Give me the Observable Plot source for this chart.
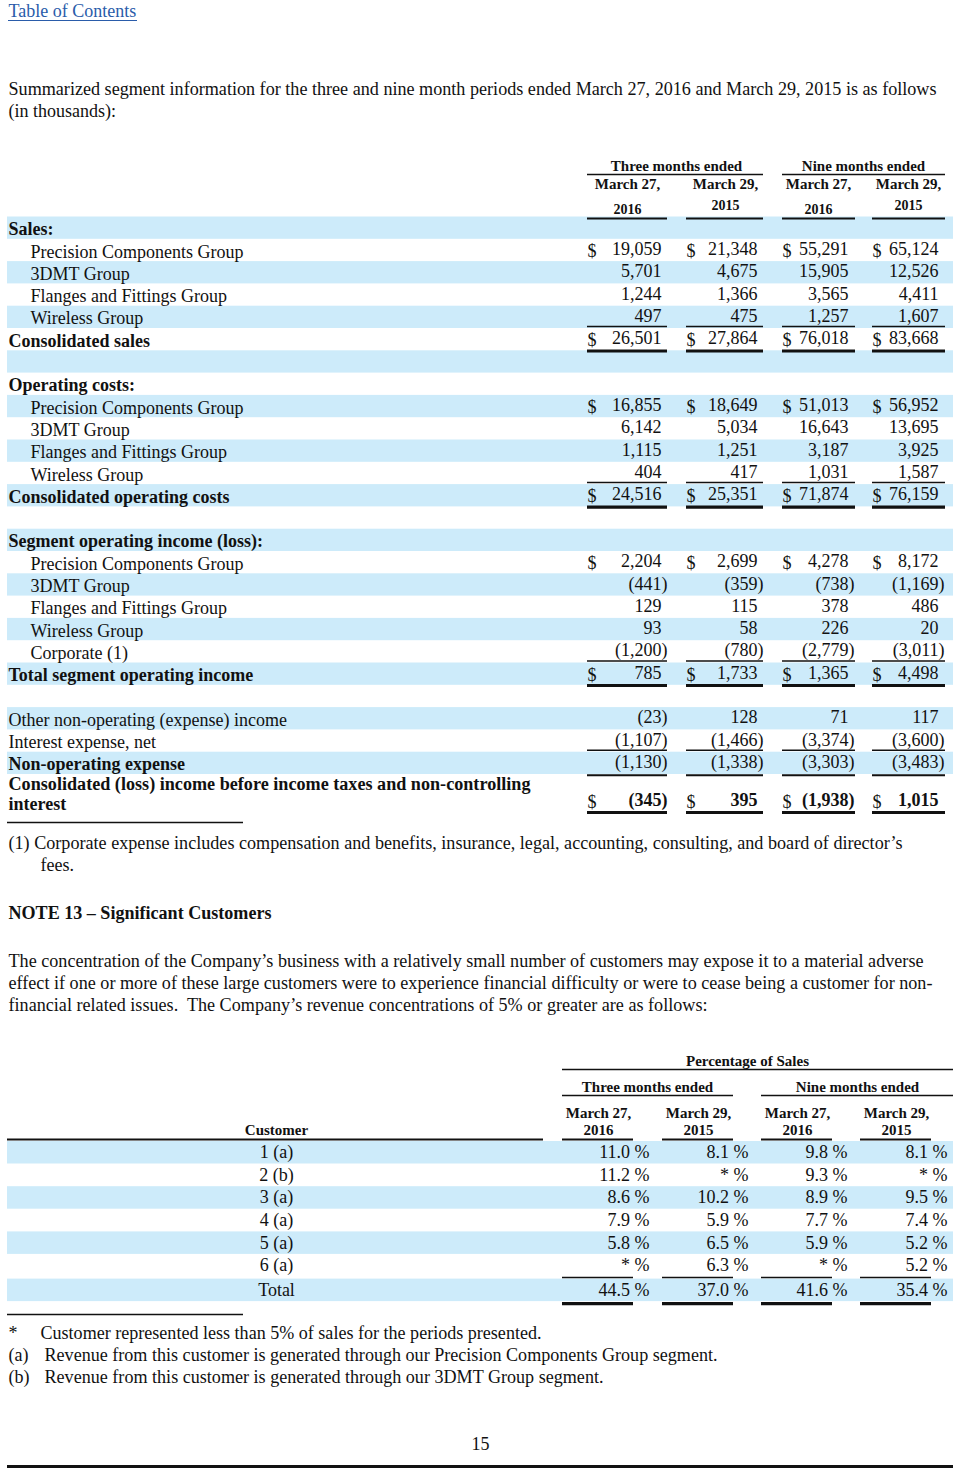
<!DOCTYPE html>
<html><head><meta charset="utf-8">
<script src="https://cdn.jsdelivr.net/npm/d3@7"></script>
<script src="https://cdn.jsdelivr.net/npm/@observablehq/plot@0.6"></script>
<style>html,body{margin:0;padding:0;background:#fff;} svg{display:block;}</style>
</head><body><div id="chart"></div>
<script>
// ---------------- DATA ----------------
const linkText = "Table of Contents";
const introLines = [
  "Summarized segment information for the three and nine month periods ended March 27, 2016 and March 29, 2015 is as follows",
  "(in thousands):"
];
const periodGroups = ["Three months ended", "Nine months ended"];
const periodDates = ["March 27,", "March 29,", "March 27,", "March 29,"];
const periodYears = ["2016", "2015", "2016", "2015"];

const segments = ["Precision Components Group", "3DMT Group", "Flanges and Fittings Group", "Wireless Group"];
const salesValues = [[19059, 21348, 55291, 65124], [5701, 4675, 15905, 12526], [1244, 1366, 3565, 4411], [497, 475, 1257, 1607]];
const salesTotal = [26501, 27864, 76018, 83668];
const opCostValues = [[16855, 18649, 51013, 56952], [6142, 5034, 16643, 13695], [1115, 1251, 3187, 3925], [404, 417, 1031, 1587]];
const opCostTotal = [24516, 25351, 71874, 76159];
const incomeNames = ["Precision Components Group", "3DMT Group", "Flanges and Fittings Group", "Wireless Group", "Corporate (1)"];
const incomeValues = [[2204, 2699, 4278, 8172], [-441, -359, -738, -1169], [129, 115, 378, 486], [93, 58, 226, 20], [-1200, -780, -2779, -3011]];
const incomeTotal = [785, 1733, 1365, 4498];
const otherNonOp = [-23, 128, 71, 117];
const interestNet = [-1107, -1466, -3374, -3600];
const nonOpExpense = [-1130, -1338, -3303, -3483];
const pretaxIncome = [-345, 395, -1938, 1015];

const footnote1 = [
  "(1) Corporate expense includes compensation and benefits, insurance, legal, accounting, consulting, and board of director\u2019s",
  "fees."
];
const noteTitle = "NOTE 13 \u2013 Significant Customers";
const noteLines = [
  "The concentration of the Company\u2019s business with a relatively small number of customers may expose it to a material adverse",
  "effect if one or more of these large customers were to experience financial difficulty or were to cease being a customer for non-",
  "financial related issues.  The Company\u2019s revenue concentrations of 5% or greater are as follows:"
];
const pctTitle = "Percentage of Sales";
const customers = ["1 (a)", "2 (b)", "3 (a)", "4 (a)", "5 (a)", "6 (a)"];
const customerPct = [[11.0, 8.1, 9.8, 8.1], [11.2, null, 9.3, null], [8.6, 10.2, 8.9, 9.5], [7.9, 5.9, 7.7, 7.4], [5.8, 6.5, 5.9, 5.2], [null, 6.3, null, 5.2]];
const customerTotal = [44.5, 37.0, 41.6, 35.4];
const footMarks = ["*", "(a)", "(b)"];
const footTexts = [
  "Customer represented less than 5% of sales for the periods presented.",
  "Revenue from this customer is generated through our Precision Components Group segment.",
  "Revenue from this customer is generated through our 3DMT Group segment."
];
const pageNumber = "15";

// ---------------- LAYOUT ----------------
const FONT = "'Liberation Serif', 'Times New Roman', serif";
const INK = "#111";
const SHADE = "#cdebfa";
const W = 960, H = 1471;
const t1 = {y0: 226.5, pitch: 22.3, colRight: [661, 757, 848, 938],
  seg: [[587, 667], [686, 763], [782, 855], [872, 945]], dateX: [627, 725, 818, 908], groupX: [676, 863]};
const t2 = {y0: 1152, pitch: 22.6, colRight: [649, 748, 847, 947],
  seg: [[562, 633], [662, 733], [761, 832], [860, 931]], headX: [598, 698, 797, 896]};
const fitWidths = new Map([
  [introLines[0], 928], [footnote1[0], 894], [noteTitle, 263],
  [noteLines[0], 915], [noteLines[1], 924], [noteLines[2], 699],
  [footTexts[0], 501], [footTexts[1], 673], [footTexts[2], 559],
  ["Consolidated (loss) income before income taxes and non-controlling", 522]
]);

// ---------------- BUILD ----------------
const texts = [], bands = [], thin = [], thick = [];
const addText = (text, x, y, o = {}) => texts.push({text, x, y, size: o.size || 18, bold: !!o.bold, anchor: o.anchor || "start"});
const fmt = v => v < 0 ? `(${d3.format(",")(-v)})` : d3.format(",")(v);
const band = y => bands.push({x1: 7, x2: 953, y1: y - 10, y2: y + 12.3});

// top
introLines.forEach((l, i) => addText(l, 8, 89 + i * 22));

// table 1 header
periodGroups.forEach((g, i) => {
  addText(g, t1.groupX[i], 166, {size: 15, bold: true, anchor: "middle"});
  thin.push({x1: t1.seg[i * 2][0], x2: t1.seg[i * 2 + 1][1], y: 174, w: 1.5});
});
periodDates.forEach((d, j) => {
  addText(d, t1.dateX[j], 184, {size: 15, bold: true, anchor: "middle"});
  addText(periodYears[j], t1.dateX[j], periodYears[j] === "2016" ? 209 : 205, {size: 14, bold: true, anchor: "middle"});
  thin.push({x1: t1.seg[j][0], x2: t1.seg[j][1], y: 218, w: 2});
});

// table 1 rows
const rows = [];
rows.push({label: "Sales:", bold: true});
segments.forEach((s, i) => rows.push({label: s, indent: true, values: salesValues[i], dollar: i === 0}));
rows.push({label: "Consolidated sales", bold: true, values: salesTotal, dollar: true, total: true});
rows.push({});
rows.push({label: "Operating costs:", bold: true});
segments.forEach((s, i) => rows.push({label: s, indent: true, values: opCostValues[i], dollar: i === 0}));
rows.push({label: "Consolidated operating costs", bold: true, values: opCostTotal, dollar: true, total: true});
rows.push({});
rows.push({label: "Segment operating income (loss):", bold: true});
incomeNames.forEach((s, i) => rows.push({label: s, indent: true, values: incomeValues[i], dollar: i === 0}));
rows.push({label: "Total segment operating income", bold: true, values: incomeTotal, dollar: true, total: true});
rows.push({});
rows.push({label: "Other non-operating (expense) income", values: otherNonOp});
rows.push({label: "Interest expense, net", values: interestNet});
rows.push({label: "Non-operating expense", bold: true, values: nonOpExpense, sub: true});
rows.push({label: "Consolidated (loss) income before income taxes and non-controlling", label2: "interest", bold: true, values: pretaxIncome, dollar: true, grand: true, boldValues: true});

rows.forEach((r, i) => {
  const vy = t1.y0 + i * t1.pitch;
  if (i % 2 === 0) band(vy);
  if (r.label) {
    if (r.label2) {
      addText(r.label, 8, vy, {bold: r.bold});
      addText(r.label2, 8, vy + 20, {bold: r.bold});
    } else addText(r.label, r.indent ? 30 : 8, vy + 2.5, {bold: r.bold});
  }
  if (r.values) {
    const y = r.grand ? vy + 16 : vy;
    r.values.forEach((v, j) => {
      addText(fmt(v), t1.colRight[j] + (v < 0 ? 6 : 0), y, {anchor: "end", bold: r.boldValues});
      if (r.dollar) addText("$", t1.seg[j][0], y + 2);
      const [x1, x2] = t1.seg[j];
      if (r.total) { thin.push({x1, x2, y: vy - 12, w: 1.5}); thick.push({x1, x2, y: vy + 12.5}); }
      if (r.sub) { thin.push({x1, x2, y: vy - 12, w: 1.5}); thin.push({x1, x2, y: vy + 13, w: 2}); }
      if (r.grand) thick.push({x1, x2, y: y + 12});
    });
  }
});
thin.push({x1: 7, x2: 243, y: 822, w: 1.5});

// footnote & note
footnote1.forEach((l, i) => addText(l, i === 0 ? 8 : 40, 843 + i * 22));
addText(noteTitle, 8, 913, {bold: true});
noteLines.forEach((l, i) => addText(l, 8, 961 + i * 22));

// table 2 header
addText(pctTitle, 747, 1061, {size: 15, bold: true, anchor: "middle"});
thin.push({x1: t2.seg[0][0], x2: 953, y: 1069, w: 1.5});
periodGroups.forEach((g, i) => {
  addText(g, i === 0 ? 647 : 857, 1087, {size: 15, bold: true, anchor: "middle"});
  thin.push({x1: t2.seg[i * 2][0], x2: i === 0 ? t2.seg[1][1] : 953, y: 1095, w: 1.5});
});
periodDates.forEach((d, j) => {
  addText(d, t2.headX[j], 1113, {size: 15, bold: true, anchor: "middle"});
  addText(periodYears[j], t2.headX[j], 1130, {size: 15, bold: true, anchor: "middle"});
  thin.push({x1: t2.seg[j][0], x2: t2.seg[j][1], y: 1139, w: 2});
});
addText("Customer", 276, 1130, {size: 15, bold: true, anchor: "middle"});
thin.push({x1: 7, x2: 543, y: 1139, w: 2});

// table 2 rows
const pct = v => v == null ? "* %" : `${v.toFixed(1)} %`;
const rows2 = customers.map((c, i) => ({label: c, values: customerPct[i]}));
rows2.push({label: "Total", values: customerTotal, total: true});
rows2.forEach((r, i) => {
  const vy = t2.y0 + i * t2.pitch + (r.total ? 2 : 0);
  if (i % 2 === 0) bands.push({x1: 7, x2: 953, y1: vy - 11, y2: vy + 11.5});
  addText(r.label, 276, vy, {anchor: "middle"});
  r.values.forEach((v, j) => {
    addText(pct(v), t2.colRight[j], vy, {anchor: "end"});
    const [x1, x2] = t2.seg[j];
    if (r.total) { thin.push({x1, x2, y: vy - 12.5, w: 1.5}); thick.push({x1, x2, y: vy + 13.5}); }
  });
});
thin.push({x1: 7, x2: 243, y: 1314, w: 1.5});

// footnotes
footMarks.forEach((m, i) => {
  addText(m, 8, 1333 + i * 22);
  addText(footTexts[i], i === 0 ? 40 : 44, 1333 + i * 22);
});
addText(pageNumber, 480, 1444, {anchor: "middle"});
thick.push({x1: 7, x2: 953, y: 1466});

// ---------------- PLOT ----------------
const groups = d3.groups(texts, d => `${d.bold}|${d.anchor}`);
const plot = Plot.plot({
  width: W, height: H,
  margin: 0,
  x: {domain: [0, W], range: [0, W], axis: null},
  y: {domain: [0, H], range: [0, H], axis: null},
  style: {background: "#fff"},
  marks: [
    Plot.rect(bands, {x1: "x1", x2: "x2", y1: "y1", y2: "y2", fill: SHADE}),
    Plot.ruleY(thin, {y: "y", x1: "x1", x2: "x2", stroke: INK, strokeWidth: d => d.w}),
    Plot.ruleY(thick, {y: "y", x1: "x1", x2: "x2", stroke: INK, strokeWidth: 3.2}),
    Plot.text([linkText], {x: () => 8, y: () => 11, text: d => d, textAnchor: "start", fontSize: 18, fontFamily: FONT, fill: "#2a5caa"}),
    Plot.ruleY([linkText], {y: () => 20, x1: () => 8, x2: () => 137, stroke: "#2a5caa", strokeWidth: 1.2}),
    ...groups.map(([key, items]) => {
      const [bold, anchor] = key.split("|");
      return Plot.text(items, {x: "x", y: "y", text: "text", fontSize: "size", textAnchor: anchor,
        fontWeight: bold === "true" ? "bold" : "normal", fontFamily: FONT, fill: INK});
    })
  ]
});
d3.select(plot).selectAll("text").each(function () {
  const w = fitWidths.get(this.textContent);
  if (w) { this.setAttribute("textLength", w); this.setAttribute("lengthAdjust", "spacingAndGlyphs"); }
});
document.getElementById("chart").appendChild(plot);
</script>
</body></html>
